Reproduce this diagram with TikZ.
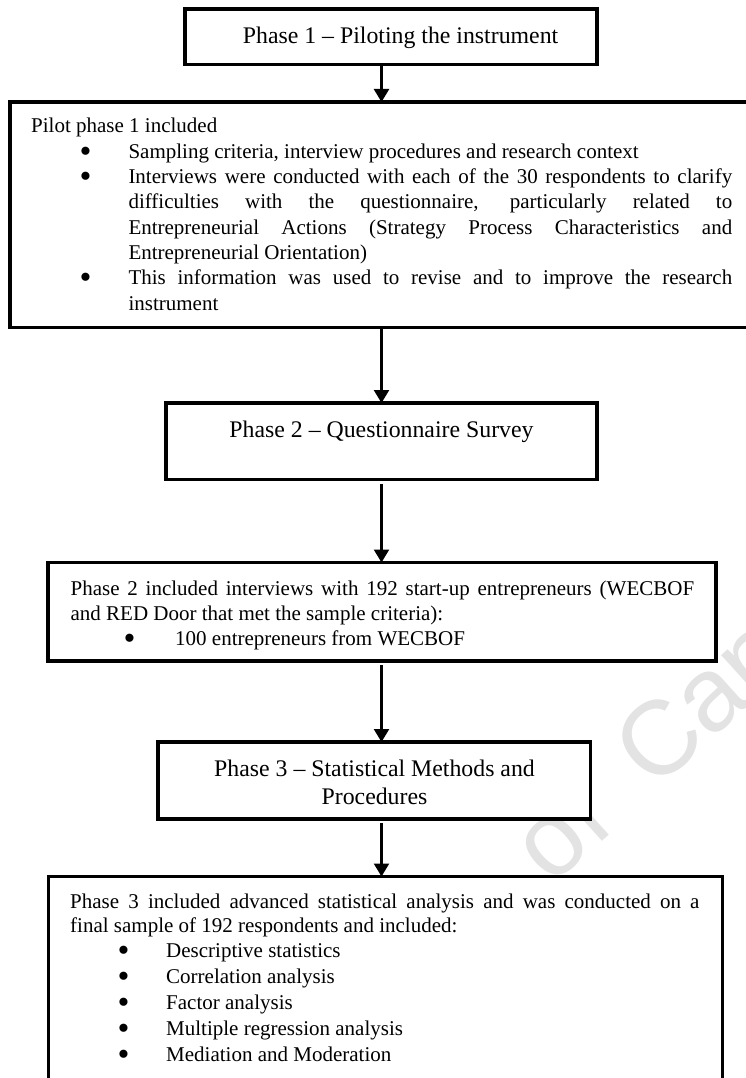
\documentclass[tikz,border=0pt]{standalone}
\usepackage{fontspec}
\setmainfont{Liberation Serif}
\newfontfamily\markfont{Liberation Sans}
\usetikzlibrary{arrows.meta}

\tikzset{
  box/.style={draw=black, fill=white, line width=3.8pt, inner sep=0pt, outer sep=0pt, anchor=north west},
  title/.style={inner sep=0pt, font=\fontsize{23.8pt}{28.5pt}\selectfont},
  body/.style={inner sep=0pt, anchor=base west, font=\fontsize{21pt}{25.3pt}\selectfont},
  dot/.style={inner sep=0pt, anchor=base, yshift=-4pt, font=\fontsize{34pt}{34pt}\selectfont},
  flow/.style={line width=2.4pt, -{Triangle[width=15pt,length=13pt]}},
  gap/.style={shorten <=4pt},
  wmark/.style={inner sep=0pt, anchor=base west, rotate=42, text=black!11,
    font=\markfont\fontsize{105pt}{105pt}\selectfont}
}

\begin{document}
\begin{tikzpicture}[x=1pt, y=-1pt]
\useasboundingbox (0,0) rectangle (746,1078);
\fill[white] (0,0) rectangle (746,1078);
\clip (0,0) rectangle (746,1078);

% faint watermark behind the boxes
\node[wmark] (wm-of) at (551.6,886.8) {of};
\node[wmark] (wm-cape) at (654,791.3) {Cape};

% frames of the five stages
\node[box, minimum width=411.7pt, minimum height=55.8pt] (p1title) at (185.3,8.7) {};
\node[box, minimum width=760pt, minimum height=225.5pt] (p1detail) at (10.3,102) {};
\node[box, minimum width=431pt, minimum height=76.5pt] (p2title) at (166,403) {};
\node[box, minimum width=668pt, minimum height=98.5pt] (p2detail) at (48,562.5) {};
\node[box, minimum width=432.5pt, minimum height=77pt] (p3title) at (158,742) {};
\node[box, minimum width=674pt, minimum height=260pt] (p3detail) at (48.5,876.5) {};

% Phase 1
\node[title, anchor=base west] (p1title-text) at (242.7,43.5) {Phase 1 – Piloting the instrument};

\node[body] (pilot-head) at (31,133) {Pilot phase 1 included};
\node[dot] (pilot-b1) at (85.5,158.3) {•};
\node[body] (pilot-l1) at (128.3,158.3) {Sampling criteria, interview procedures and research context};
\node[dot] (pilot-b2) at (85.5,183.6) {•};
\node[body] (pilot-l2) at (128.3,183.6) {\makebox[603.7pt][s]{Interviews were conducted with each of the 30 respondents to clarify}};
\node[body] (pilot-l3) at (128.3,208.9) {\makebox[603.7pt][s]{difficulties with the questionnaire, particularly related to}};
\node[body] (pilot-l4) at (128.3,234.2) {\makebox[603.7pt][s]{Entrepreneurial Actions (Strategy Process Characteristics and}};
\node[body] (pilot-l5) at (128.3,259.5) {Entrepreneurial Orientation)};
\node[dot] (pilot-b3) at (85.5,284.8) {•};
\node[body] (pilot-l6) at (128.3,284.8) {\makebox[603.7pt][s]{This information was used to revise and to improve the research}};
\node[body] (pilot-l7) at (128.3,310.1) {instrument};

% Phase 2
\node[title, anchor=base] (p2title-text) at (381.5,437) {Phase 2 – Questionnaire Survey};

\node[body] (survey-l1) at (70.4,595) {\makebox[623.6pt][s]{Phase 2 included interviews with 192 start-up entrepreneurs (WECBOF}};
\node[body] (survey-l2) at (70.4,620) {and RED Door that met the sample criteria):};
\node[dot] (survey-b1) at (129.5,645) {•};
\node[body] (survey-l3) at (175,645) {100 entrepreneurs from WECBOF};

% Phase 3
\node[title, anchor=base] (p3title-l1) at (374.5,776) {Phase 3 – Statistical Methods and};
\node[title, anchor=base] (p3title-l2) at (374.5,804.5) {Procedures};

\node[body] (stats-l1) at (70,908) {\makebox[629.3pt][s]{Phase 3 included advanced statistical analysis and was conducted on a}};
\node[body] (stats-l2) at (70,932) {final sample of 192 respondents and included:};
\foreach \yy/\what [count=\i] in {957.5/Descriptive statistics,
    983.5/Correlation analysis, 1009.5/Factor analysis,
    1035.5/Multiple regression analysis, 1061/Mediation and Moderation} {
  \node[dot] (stats-b\i) at (123.5,\yy) {•};
  \node[body] (stats-i\i) at (166,\yy) {\what};
}

% connectors down the middle
\coordinate (spine) at (381.5,0);
\draw[flow] (p1title.south -| spine) -- (p1detail.north -| spine);
\draw[flow] (p1detail.south -| spine) -- (p2title.north -| spine);
\draw[flow, gap] (p2title.south -| spine) -- (p2detail.north -| spine);
\draw[flow, gap] (p2detail.south -| spine) -- (p3title.north -| spine);
\draw[flow, gap] (p3title.south -| spine) -- (p3detail.north -| spine);
\end{tikzpicture}
\end{document}
